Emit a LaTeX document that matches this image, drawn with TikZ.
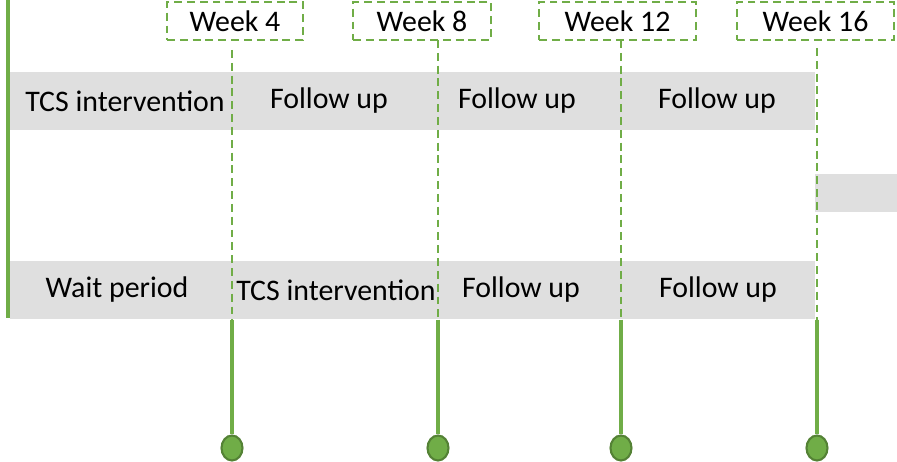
\documentclass[tikz,border=0pt]{standalone}
\usepackage{fontspec}
\setmainfont{Carlito}
\usepackage{tikz}
\usetikzlibrary{calc, positioning, shapes.geometric}
\definecolor{LeafGreen}{RGB}{112, 173, 71}
\definecolor{DeepLeaf}{RGB}{84, 130, 53}
\definecolor{BandGray}{RGB}{223, 223, 223}

\begin{document}
\begin{tikzpicture}[x=0.02cm, y=-0.02cm,
    band/.style={fill=BandGray, inner sep=0pt, minimum height=1.16cm},
    phase/.style={font=\fontsize{17}{20}\selectfont, inner sep=0pt},
    weekbox/.style={draw=LeafGreen, dash pattern=on 4.5pt off 2.8pt, line width=1.3pt,
        minimum height=0.76cm, inner sep=0pt, font=\fontsize{17}{20}\selectfont},
    tick/.style={draw=LeafGreen, dash pattern=on 4.5pt off 2.8pt, line width=1.3pt},
    stem/.style={draw=LeafGreen, line width=2pt},
    dot/.style={ellipse, fill=LeafGreen, draw=DeepLeaf, line width=1.2pt,
        minimum width=0.42cm, minimum height=0.5cm, inner sep=0pt}]
    \useasboundingbox (0,0) rectangle (897,462);

    % Bandas grises
    \node[band, minimum width=16.1cm, anchor=north west] (bandA) at (10,72) {};
    \node[band, minimum width=1.64cm, minimum height=0.76cm, anchor=north west] (bandC) at (815,174) {};
    \node[band, minimum width=16.1cm, anchor=north west] (bandB) at (10,261) {};

    % Linea vertical izquierda
    \draw[stem] (8,0) -- (8,318);

    % Etiquetas de semanas
    \node[weekbox, minimum width=2.72cm] (wk4) at (235,21) {Week 4};
    \node[weekbox, minimum width=2.76cm] (wk8) at (422,21) {Week 8};
    \node[weekbox, minimum width=3.14cm] (wk12) at (617.5,21) {Week 12};
    \node[weekbox, minimum width=3.14cm] (wk16) at (815.5,21) {Week 16};

    % Puntos finales
    \node[dot] (d4) at (232,448) {};
    \node[dot] (d8) at (438,448) {};
    \node[dot] (d12) at (621,448) {};
    \node[dot] (d16) at (817,448) {};

    % Lineas de corte
    \foreach \w/\y in {4/50, 8/40, 12/40, 16/48} {
        \draw[tick] (d\w |- 0,\y) -- (d\w |- bandB.south);
        \draw[stem] (d\w |- bandB.south) -- (d\w.north);
    }

    % Fases del primer grupo
    \node[phase] (a1) at (125,101) {TCS intervention};
    \node[phase] (a2) at (329,101) {Follow up};
    \node[phase] (a3) at (517,101) {Follow up};
    \node[phase] (a4) at (717,101) {Follow up};

    % Fases del segundo grupo
    \node[phase] (b1) at (117,290) {Wait period};
    \node[phase] (b2) at (336,290) {TCS intervention};
    \node[phase] (b3) at (521,290) {Follow up};
    \node[phase] (b4) at (718,290) {Follow up};
\end{tikzpicture}
\end{document}
